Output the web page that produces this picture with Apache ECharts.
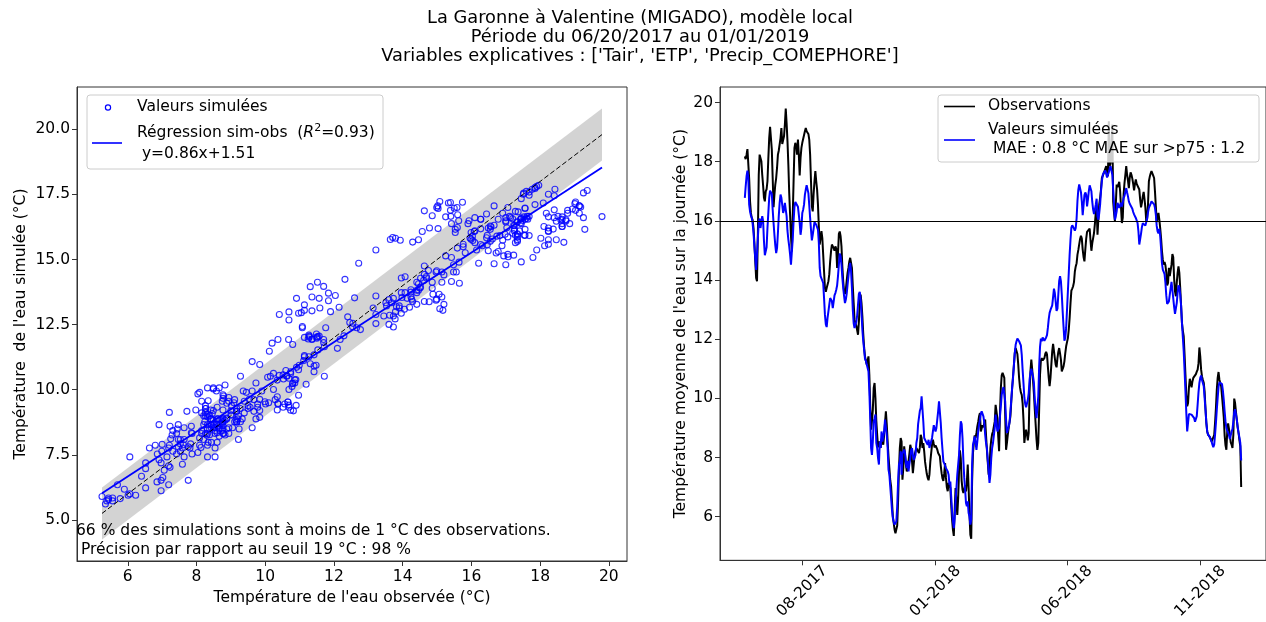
<!DOCTYPE html>
<html><head><meta charset="utf-8">
<script src="https://cdn.jsdelivr.net/npm/echarts@6/dist/echarts.min.js"></script>
<style>html,body{margin:0;padding:0;background:#fff}#c{width:1266px;height:622px}</style>
</head><body><div id="c"></div>
<script>
// ---------- data (daily values) ----------
const startDate = '2017-05-27';
const stepDays = 1;
const observed = [
18.18,18.09,18.24,18.43,18.41,17.43,16.66,16.27,16.10,16.03,15.76,15.25,14.63,14.07,13.96,15.59,17.56,18.24,18.24,18.02,
17.56,17.20,16.78,16.66,17.00,17.07,17.34,18.11,18.80,19.18,19.14,18.41,17.45,16.46,16.89,17.23,17.45,17.79,18.24,18.38,
18.41,18.80,19.14,18.60,18.64,18.86,19.26,19.80,19.30,18.69,17.90,16.94,16.21,15.48,14.97,16.15,17.34,18.47,18.64,18.52,
18.24,18.75,18.24,17.54,18.13,18.47,18.64,18.64,18.64,19.03,19.14,19.03,19.01,18.94,18.75,18.24,17.34,16.49,16.32,16.91,
17.34,17.68,17.34,17.06,16.55,15.82,15.20,15.14,15.65,15.42,14.86,14.29,13.73,13.60,13.73,13.78,13.96,14.20,14.63,14.97,
15.20,15.17,15.08,14.99,15.14,15.06,14.41,14.86,15.56,15.64,15.48,15.14,14.46,13.96,13.60,13.53,13.68,13.98,14.24,14.41,
14.63,14.75,14.69,14.41,13.79,13.22,12.66,12.54,12.46,12.40,12.15,12.60,13.22,13.51,13.22,12.77,12.18,11.72,11.42,11.27,
11.14,11.14,11.42,10.80,9.78,8.94,9.22,9.62,10.35,10.52,10.01,9.24,8.77,8.34,8.54,8.52,8.32,8.63,8.66,8.43,
8.77,9.17,9.56,9.11,8.54,8.04,7.64,7.23,7.02,6.52,6.01,5.78,5.56,5.44,5.44,5.70,6.52,7.59,8.32,8.66,
8.54,7.25,7.64,8.38,8.09,7.76,7.53,7.62,7.87,8.13,8.43,8.30,7.87,7.47,7.53,8.09,8.21,8.32,8.32,8.26,
8.15,8.34,8.77,8.66,8.32,8.49,8.21,7.85,7.64,7.44,7.31,7.23,7.42,7.85,8.15,8.43,8.60,8.46,8.34,8.41,
8.38,8.27,8.15,8.09,8.04,7.72,7.47,7.29,7.21,7.47,7.81,7.31,6.99,6.86,7.14,7.19,6.97,6.40,5.90,5.56,
5.35,6.23,6.97,6.52,6.06,6.63,7.53,8.24,7.98,7.21,6.91,6.80,6.91,7.06,6.85,7.19,7.76,6.97,6.06,5.39,
5.25,7.19,8.15,8.49,8.75,8.66,8.83,9.05,9.20,9.39,9.50,8.88,8.94,9.09,9.02,9.17,9.28,8.75,8.26,7.83,
7.42,7.59,8.32,8.60,8.79,8.88,8.94,9.22,9.78,9.84,9.33,8.71,8.21,9.50,10.35,10.78,10.86,10.86,10.69,9.45,
8.26,8.49,8.77,9.00,9.00,9.39,9.90,10.35,10.74,11.12,11.53,11.70,11.70,11.50,11.14,10.68,10.37,10.20,10.12,9.84,
9.28,8.49,8.77,8.94,8.79,8.58,8.83,10.24,10.91,11.31,10.99,10.60,10.15,9.62,9.11,8.60,8.26,8.49,9.62,10.80,
11.28,11.36,11.28,11.27,11.36,11.50,11.57,11.49,11.08,10.69,10.41,10.69,11.14,11.59,11.84,11.84,11.36,11.14,11.05,11.36,
11.57,11.70,11.52,11.31,10.91,10.97,11.08,11.25,11.53,11.76,11.90,12.04,12.32,12.72,13.22,13.64,13.71,13.79,13.93,14.29,
14.46,14.57,14.86,15.02,15.08,15.39,15.50,15.40,15.03,14.78,14.63,15.03,15.39,15.63,15.60,15.58,15.74,15.33,14.99,15.25,
15.42,15.59,15.90,16.27,16.44,15.53,15.53,16.57,16.78,17.06,17.45,17.52,17.60,17.68,17.77,17.85,17.68,17.51,19.37,17.85,
17.96,17.90,19.26,16.66,16.27,15.99,16.55,17.23,17.14,17.20,17.32,17.00,17.00,15.93,16.10,16.91,17.28,17.56,17.85,17.56,
17.36,17.11,17.45,17.64,17.56,17.43,17.25,17.03,17.25,17.40,17.25,17.28,17.28,17.06,16.72,16.46,16.61,16.83,16.98,16.74,
16.44,15.99,16.08,16.55,17.34,17.49,17.60,17.68,17.62,17.53,17.45,17.00,16.49,15.96,16.10,16.27,16.04,15.76,15.42,14.99,
14.69,14.52,14.61,14.50,14.26,13.82,13.90,14.41,14.13,14.07,14.52,14.88,14.77,14.05,13.62,13.45,13.90,14.24,14.46,14.24,
13.73,13.14,12.55,12.29,12.10,11.48,10.80,10.10,9.73,9.84,10.37,10.66,10.66,10.37,10.57,10.69,10.69,10.74,10.82,10.90,
10.97,11.19,11.72,11.42,10.97,10.74,10.63,10.53,10.24,9.67,9.17,8.88,8.77,8.77,8.69,8.62,8.54,8.54,8.60,8.76,
9.17,9.67,10.29,10.69,10.89,10.63,10.52,10.41,10.07,9.73,9.36,8.75,8.41,8.26,8.88,9.15,9.17,8.77,8.51,8.43,
8.32,8.77,9.99,9.84,9.54,9.27,9.02,8.83,8.58,8.38,7.00
];
const simulated = [
16.78,17.17,17.51,17.70,17.45,16.55,16.32,16.18,16.10,15.90,15.59,15.14,14.75,14.34,14.29,15.44,15.93,16.08,15.76,15.82,
16.16,16.01,15.31,14.84,14.80,15.11,15.76,16.27,16.78,17.02,17.06,16.91,16.38,15.93,15.53,15.17,14.91,15.08,15.59,16.17,
16.61,16.89,16.78,16.53,16.27,16.38,16.61,16.65,16.16,15.66,15.37,15.14,14.86,14.52,14.52,15.37,15.99,16.47,16.64,16.66,
16.64,16.48,16.21,15.93,15.53,15.76,16.27,16.38,16.55,16.89,17.06,17.21,17.15,16.94,16.53,16.10,15.70,15.34,15.53,15.74,
15.96,15.92,15.87,15.87,15.70,15.26,14.41,14.13,14.09,14.16,13.90,13.39,12.83,12.51,12.41,12.72,12.94,13.17,13.39,13.44,
13.28,13.05,13.11,13.48,13.56,13.67,13.82,14.13,14.52,14.90,14.80,14.52,14.07,13.73,13.46,13.22,13.34,13.54,13.84,14.13,
14.43,14.58,14.29,13.73,13.00,12.54,12.38,12.42,12.58,12.80,13.17,13.53,13.60,13.34,12.89,12.31,11.93,11.65,11.34,11.27,
11.31,11.27,10.91,10.24,9.33,8.32,8.09,8.54,9.22,9.33,9.45,8.49,8.32,7.98,7.76,8.54,8.32,8.88,8.54,8.54,
8.88,9.28,9.33,8.77,8.32,7.59,7.42,7.02,6.63,6.23,5.95,5.82,5.73,5.78,5.84,6.35,7.19,7.76,7.87,8.21,
7.42,8.12,8.09,8.27,8.15,7.81,7.64,7.89,7.53,7.78,7.98,8.25,8.32,8.09,7.92,7.87,8.09,8.49,8.66,9.13,
9.11,9.58,9.67,10.07,10.07,9.20,8.66,8.60,8.54,8.49,8.43,8.60,8.32,8.35,8.32,8.66,8.88,9.09,9.05,8.88,
9.00,9.28,9.56,9.90,9.84,9.17,8.66,8.26,7.87,7.80,7.76,7.64,7.64,7.53,7.42,7.08,7.19,6.68,6.18,5.84,
5.61,5.95,6.52,6.97,7.42,7.76,8.09,8.77,9.22,9.13,8.66,7.87,7.31,6.91,6.46,6.35,6.52,6.12,6.00,5.73,
5.90,7.76,8.43,8.57,8.71,8.49,8.26,8.54,8.88,9.11,9.28,9.48,9.56,9.50,9.39,9.17,8.77,8.49,8.32,7.92,
7.53,7.14,7.42,7.98,8.32,8.49,8.54,9.00,9.45,9.20,8.88,8.83,9.00,9.39,9.73,10.12,10.26,10.38,10.44,9.90,
9.28,8.83,8.88,9.04,9.19,9.56,9.95,10.37,10.69,11.12,11.53,11.81,11.93,12.02,12.01,11.93,11.93,11.79,11.48,10.97,
10.52,10.03,9.81,9.70,9.76,9.95,10.18,10.63,10.86,11.00,10.94,10.74,10.52,9.95,9.62,9.33,9.39,10.07,11.08,11.74,
12.02,11.93,12.06,12.10,11.95,11.98,12.06,12.14,12.38,12.68,12.89,12.99,13.05,13.14,13.42,13.71,13.56,13.26,12.96,13.03,
13.51,13.97,14.13,13.96,13.51,12.94,12.43,11.95,12.04,12.38,13.00,13.62,14.24,14.86,15.37,15.77,15.85,15.82,15.74,15.67,
15.76,16.08,16.68,17.06,17.23,17.19,16.97,16.66,16.19,16.21,16.87,16.96,16.89,16.49,16.72,17.00,17.20,17.17,17.00,16.64,
16.38,16.23,16.38,16.55,16.75,16.16,16.04,16.26,16.55,17.00,17.34,17.55,17.62,17.59,17.70,17.73,17.47,17.51,17.65,17.77,
17.85,17.81,17.56,17.06,16.55,16.04,16.16,16.32,16.61,16.57,16.44,16.49,16.61,16.49,16.61,16.78,16.85,16.98,17.11,16.96,
16.83,16.66,16.58,16.55,16.55,16.41,16.30,16.22,16.16,16.10,16.10,15.93,15.65,15.20,15.25,15.57,15.79,15.92,15.97,15.90,
15.84,15.78,16.08,16.29,16.44,16.50,16.58,16.66,16.66,16.64,16.56,16.44,16.21,15.83,15.65,15.58,15.73,15.49,15.08,14.57,
14.35,14.28,14.20,13.91,13.48,13.19,13.14,13.28,13.51,13.73,13.94,13.67,13.38,13.09,12.86,12.83,13.22,13.57,13.82,13.75,
13.51,13.14,12.55,12.07,11.59,10.94,10.24,9.50,8.88,8.94,9.47,9.53,9.53,9.45,9.45,9.41,9.33,9.21,9.19,9.40,
9.79,10.21,10.52,10.69,10.77,10.62,10.52,10.41,10.01,9.62,9.17,8.88,8.77,8.77,8.69,8.61,8.54,8.43,8.35,8.43,
8.77,9.17,9.62,10.01,10.39,10.54,10.57,10.55,10.48,10.26,9.95,9.56,9.22,9.00,8.91,8.84,8.75,8.62,8.66,8.88,
8.96,9.22,9.54,9.63,9.64,9.28,9.02,8.83,8.68,8.49,7.90
];
const timeTicks = ['2017-08-01','2018-01-01','2018-06-01','2018-11-01'];
const scatterXTicks = [6,8,10,12,14,16,18,20];
const scatterYTicks = [5,7.5,10,12.5,15,17.5,20];
const seriesYTicks = [6,8,10,12,14,16,18,20];
const fitSlope = 0.86;
const fitIntercept = 1.51;
const tolerance = 1;      // ±1 °C band around the 1:1 line
const thresholdLine = 16; // horizontal reference line
const titleLines = [
  'La Garonne à Valentine (MIGADO), modèle local',
  'Période du 06/20/2017 au 01/01/2019',
  "Variables explicatives : ['Tair', 'ETP', 'Precip_COMEPHORE']"
];
const noteLines = [
  '66 % des simulations sont à moins de 1 °C des observations.',
  ' Précision par rapport au seuil 19 °C : 98 %'
];

// ---------- build ----------
const FONT = 'DejaVu Sans';
const FS = 15.5;
const DAY = 86400000;
const t0 = Date.parse(startDate + 'T00:00:00Z');
const times = observed.map((_, i) => t0 + i * stepDays * DAY);
const tSpan = times[times.length - 1] - times[0];
const obsSeries = observed.map((v, i) => [times[i], v]);
const simSeries = simulated.map((v, i) => [times[i], v]);
const pairs = observed.map((v, i) => [v, simulated[i]]);
const xLo = Math.min(...observed), xHi = Math.max(...observed);
const fitLine = [[xLo, fitSlope * xLo + fitIntercept], [xHi, fitSlope * xHi + fitIntercept]];
const oneToOne = [[xLo, xLo], [xHi, xHi]];
const bandPolygon = [[xLo, xLo - tolerance], [xHi, xHi - tolerance], [xHi, xHi + tolerance], [xLo, xLo + tolerance]];
const xPad = (xHi - xLo) * 0.05;
const bandTop = xHi + tolerance, bandBot = xLo - tolerance;
const yPad = (bandTop - bandBot) * 0.05;
const allVals = observed.concat(simulated);
const vMin = Math.min(...allVals), vMax = Math.max(...allVals);
const vPad = (vMax - vMin) * 0.05;

const tickTimes = timeTicks.map(d => Date.parse(d + 'T00:00:00Z'));
function mmyyyy(v) {
  const d = new Date(v);
  const m = d.getUTCMonth() + 1;
  return (m < 10 ? '0' : '') + m + '-' + d.getUTCFullYear();
}

const tickStyle = { show: true, length: 5, lineStyle: { color: '#333', width: 1 } };
const lineStyleAx = { show: true, lineStyle: { color: '#333', width: 1 } };
const labelStyle = { color: '#000', fontSize: FS, fontFamily: FONT };
const nameStyle = { color: '#000', fontSize: FS, fontFamily: FONT };
const f = (px, it) => (it ? 'italic ' : '') + px + 'px "DejaVu Sans"';

const chart = echarts.init(document.getElementById('c'), null, { renderer: 'canvas' });
const option = {
  animation: false,
  backgroundColor: '#fff',
  textStyle: { fontFamily: FONT },
  grid: [
    { left: 77, top: 87, width: 550, height: 474, show: true, borderColor: '#333', borderWidth: 1, backgroundColor: 'transparent' },
    { left: 720, top: 87, width: 547, height: 474, show: true, borderColor: '#333', borderWidth: 1, backgroundColor: 'transparent' }
  ],
  xAxis: [
    { type: 'value', gridIndex: 0, min: xLo - xPad, max: xHi + xPad, splitLine: { show: false },
      axisLine: lineStyleAx,
      axisTick: Object.assign({}, tickStyle, { customValues: scatterXTicks }),
      axisLabel: Object.assign({}, labelStyle, { customValues: scatterXTicks, margin: 8 }),
      name: "Température de l'eau observée (°C)", nameLocation: 'middle', nameGap: 26, nameTextStyle: nameStyle },
    { type: 'value', gridIndex: 1, min: times[0] - tSpan * 0.05, max: times[times.length - 1] + tSpan * 0.05,
      splitLine: { show: false }, axisLine: lineStyleAx,
      axisTick: Object.assign({}, tickStyle, { customValues: tickTimes }),
      axisLabel: Object.assign({}, labelStyle, { customValues: tickTimes, formatter: mmyyyy, rotate: 45, align: 'center', verticalAlign: 'middle', margin: 31 }) }
  ],
  yAxis: [
    { type: 'value', gridIndex: 0, min: bandBot - yPad, max: bandTop + yPad, splitLine: { show: false },
      axisLine: lineStyleAx,
      axisTick: Object.assign({}, tickStyle, { customValues: scatterYTicks }),
      axisLabel: Object.assign({}, labelStyle, { customValues: scatterYTicks, margin: 7, formatter: v => Number(v).toFixed(1) }),
      name: "Température  de l'eau simulée (°C)", nameLocation: 'middle', nameGap: 48, nameTextStyle: nameStyle },
    { type: 'value', gridIndex: 1, min: vMin - vPad, max: vMax + vPad, splitLine: { show: false },
      axisLine: lineStyleAx,
      axisTick: Object.assign({}, tickStyle, { customValues: seriesYTicks }),
      axisLabel: Object.assign({}, labelStyle, { customValues: seriesYTicks, margin: 7 }),
      name: "Température moyenne de l'eau sur la journée (°C)", nameLocation: 'middle', nameGap: 30, nameTextStyle: nameStyle }
  ],
  series: [
    { type: 'custom', xAxisIndex: 0, yAxisIndex: 0, data: [bandPolygon[0]], silent: true, z: 1,
      renderItem: (params, api) => ({ type: 'polygon',
        shape: { points: bandPolygon.map(p => api.coord(p)) }, style: { fill: '#d3d3d3' } }) },
    { type: 'scatter', xAxisIndex: 0, yAxisIndex: 0, data: pairs, symbol: 'circle', symbolSize: 6,
      itemStyle: { color: 'rgba(0,0,0,0)', borderColor: '#0000ff', borderWidth: 1.1 }, z: 2 },
    { type: 'line', xAxisIndex: 0, yAxisIndex: 0, data: oneToOne, symbol: 'none', silent: true,
      lineStyle: { color: '#000', width: 1, type: [5, 2.5] }, z: 3 },
    { type: 'line', xAxisIndex: 0, yAxisIndex: 0, data: fitLine, symbol: 'none', silent: true,
      lineStyle: { color: '#0000ff', width: 1.8 }, z: 4 },
    { type: 'line', xAxisIndex: 1, yAxisIndex: 1, data: obsSeries, symbol: 'none',
      lineStyle: { color: '#000', width: 2 }, z: 2 },
    { type: 'line', xAxisIndex: 1, yAxisIndex: 1, data: simSeries, symbol: 'none',
      lineStyle: { color: '#0000ff', width: 2 }, z: 3,
      markLine: { silent: true, symbol: 'none', label: { show: false },
        lineStyle: { color: '#000', width: 1, type: 'solid' }, data: [{ yAxis: thresholdLine }] } }
  ],
  graphic: [
    ...titleLines.map((t, i) => ({ type: 'text', x: 640, y: 18 + i * 19, z: 100,
      style: { text: t, font: f(17.8), fill: '#000', textAlign: 'center', textVerticalAlign: 'middle' } })),
    { type: 'rect', z: 100, shape: { x: 87, y: 95, width: 296, height: 74, r: 3 },
      style: { fill: 'rgba(255,255,255,0.8)', stroke: '#cccccc', lineWidth: 1 } },
    { type: 'circle', z: 101, shape: { cx: 108, cy: 107.5, r: 2.6 }, style: { fill: 'none', stroke: '#0000ff', lineWidth: 1.2 } },
    { type: 'text', z: 101, x: 137, y: 106.5, style: { text: 'Valeurs simulées', font: f(FS), fill: '#000', textVerticalAlign: 'middle' } },
    { type: 'line', z: 101, shape: { x1: 92, y1: 143, x2: 122, y2: 143 }, style: { stroke: '#0000ff', lineWidth: 1.6 } },
    { type: 'text', z: 101, x: 137, y: 133, style: {
        text: '{n|Régression sim-obs  (}{i|R}{s|2}{n|=0.93)}', textVerticalAlign: 'middle',
        rich: { n: { font: f(FS), fill: '#000' }, i: { font: f(FS, true), fill: '#000' },
                s: { font: f(11), fill: '#000', padding: [0, 0, 9, 0] } } } },
    { type: 'text', z: 101, x: 137, y: 154, style: { text: ' y=0.86x+1.51', font: f(FS), fill: '#000', textVerticalAlign: 'middle' } },
    { type: 'rect', z: 100, shape: { x: 938, y: 95, width: 321, height: 67, r: 3 },
      style: { fill: 'rgba(255,255,255,0.8)', stroke: '#cccccc', lineWidth: 1 } },
    { type: 'line', z: 101, shape: { x1: 944, y1: 106.5, x2: 975, y2: 106.5 }, style: { stroke: '#000', lineWidth: 1.6 } },
    { type: 'text', z: 101, x: 988, y: 106, style: { text: 'Observations', font: f(FS), fill: '#000', textVerticalAlign: 'middle' } },
    { type: 'line', z: 101, shape: { x1: 944, y1: 140, x2: 975, y2: 140 }, style: { stroke: '#0000ff', lineWidth: 1.6 } },
    { type: 'text', z: 101, x: 988, y: 129.5, style: { text: 'Valeurs simulées', font: f(FS), fill: '#000', textVerticalAlign: 'middle' } },
    { type: 'text', z: 101, x: 988, y: 148.5, style: { text: ' MAE : 0.8 °C MAE sur >p75 : 1.2', font: f(FS), fill: '#000', textVerticalAlign: 'middle' } },
    ...noteLines.map((t, i) => ({ type: 'text', x: 76, y: 531 + i * 18.5, z: 100,
      style: { text: t, font: f(FS), fill: '#000', textVerticalAlign: 'middle' } }))
  ]
};
chart.setOption(option);
</script>
</body></html>
